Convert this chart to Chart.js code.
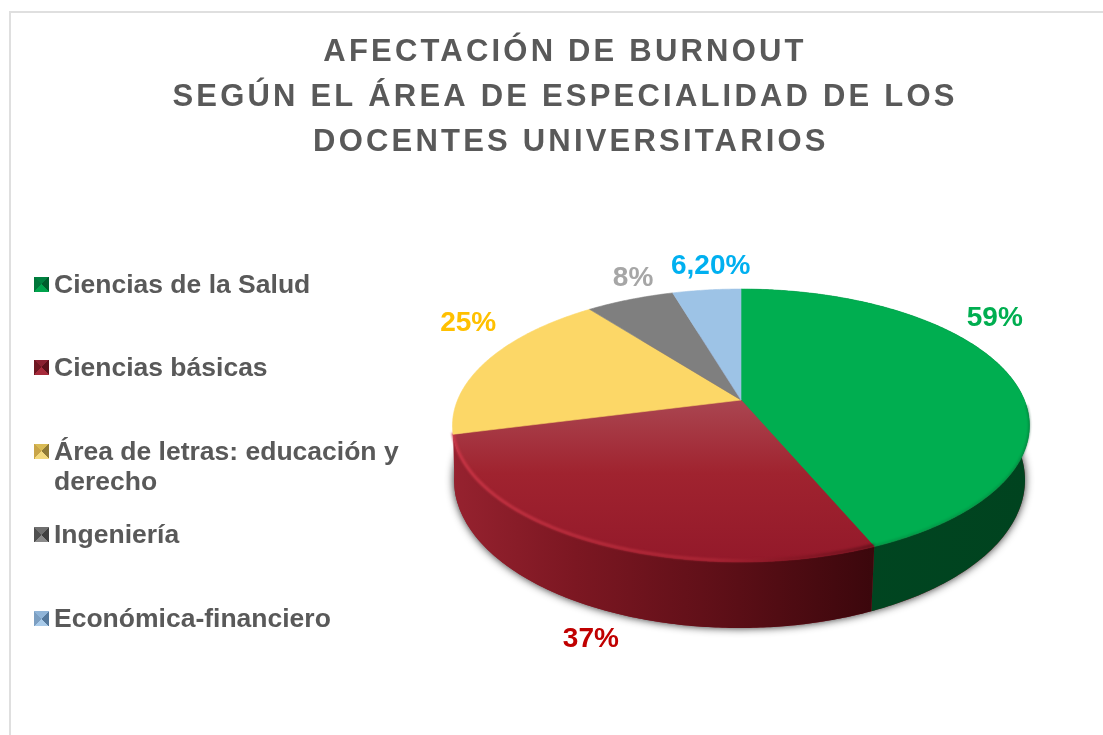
<!DOCTYPE html>
<html lang="es">
<head>
<meta charset="utf-8">
<script src="https://cdn.jsdelivr.net/npm/chart.js@4"></script>
<style>
html,body{margin:0;padding:0;background:#fff;overflow:hidden}
#wrap{position:relative;width:1103px;height:735px;overflow:hidden;font-family:"Liberation Sans",Arial,sans-serif}
#frame{position:absolute;left:9px;top:11px;width:1200px;height:900px;border:2px solid #dfdfdf;pointer-events:none}
canvas{position:absolute;left:0;top:0}
#legend{position:absolute;left:34px;top:0}
.item{position:absolute;left:0;white-space:nowrap;font-weight:bold;font-size:26.5px;line-height:30px;color:#595959;padding-left:20px}
.mark{position:absolute;left:0;top:8px;width:15px;height:15px}
</style>
</head>
<body>
<div id="wrap">
<div id="frame"></div>
<canvas id="c" width="1103" height="735"></canvas>
<div id="legend"></div>
</div>
<script>
const titleLines = ['AFECTACIÓN DE BURNOUT','SEGÚN EL ÁREA DE ESPECIALIDAD DE LOS',' DOCENTES UNIVERSITARIOS'];
const categories = ['Ciencias de la Salud','Ciencias básicas','Área de letras: educación y derecho','Ingeniería','Económica-financiero'];
const values = [59,37,25,8,6.2];
const valueLabels = ['59%','37%','25%','8%','6,20%'];

const topColors = ['#00ae50','#9b1c2c','#fcd767','#7f7f7f','#9dc3e6'];
const labelColors = ['#00ae50','#c00000','#ffc000','#a6a6a6','#00b0f0'];
const wallStops = [['#004a24','#00431f'],['#96222f','#3b070c']];
const labelOffsets = [[-14,-57],[1,98],[-20,-36],[3,-21],[4,-24]];
const legendTops = [269,352,436,519,603];
const legendMarks = [
  ['#00803f','#005c2c','#00a34c','#00773a'],
  ['#8a2030','#5c101a','#a62a3a','#6e1722'],
  ['#d9bb55','#8f7a35','#f3d97c','#c9a548'],
  ['#6f6f6f','#3f3f3f','#8a8a8a','#4f4f4f'],
  ['#8fb4d8','#54789c','#a9cbea','#7c9fc2']
];

/* Perspective geometry of the pie disc, as ratios of the library's outer radius */
const K = 0.187, SX = 283.4/235, SY = 131.7/235;
const TOP = {dy:25.5/235, rx:288.5/235, ry:136.5/235};
const BOT = {dx:-1.5/235, dy:80/235, rx:285.5/235, ry:148/235};

function project(el, th){
  const r = el.outerRadius, x = Math.sin(th), y = -Math.cos(th), d = 1 - K*y;
  return {x: el.x + r*SX*x/d, y: el.y + r*SY*y/d};
}
function ellipseParam(el, p){
  const r = el.outerRadius;
  return Math.atan2((p.y-(el.y+TOP.dy*r))/(TOP.ry*r), (p.x-el.x)/(TOP.rx*r));
}
function bottomRim(el, p){
  const r = el.outerRadius, t = ellipseParam(el,p);
  return {x: el.x + BOT.dx*r + BOT.rx*r*Math.cos(t), y: el.y + BOT.dy*r + BOT.ry*r*Math.sin(t)};
}
function rimPoints(el){
  const a = el.startAngle + Math.PI/2, b = el.endAngle + Math.PI/2;
  const n = Math.max(2, Math.ceil((b-a)/0.01)), pts = [];
  for(let i=0;i<=n;i++) pts.push(project(el, a+(b-a)*i/n));
  return pts;
}

const pie3d = {
  id:'pie3d',
  beforeDraw(chart){ chart.ctx.letterSpacing = '3.2px'; },
  afterLayout(chart){
    const t = chart.titleBlock;
    t.left = 0; t.right = 1130; t.width = 1130;
  },
  beforeDatasetsDraw(chart){
    const ctx = chart.ctx;
    ctx.letterSpacing = '0px';
    const arcs = chart.getDatasetMeta(0).data, e0 = arcs[0], r = e0.outerRadius;
    ctx.save();
    ctx.shadowColor = 'rgba(0,0,0,0.85)';
    ctx.shadowBlur = 8;
    ctx.fillStyle = '#8f2230';
    ctx.beginPath();
    ctx.ellipse(e0.x+BOT.dx*r, e0.y+BOT.dy*r, BOT.rx*r, BOT.ry*r, 0, 0, Math.PI*2);
    ctx.fill();
    ctx.restore();
    arcs.slice(0,2).forEach((el,i)=>{
      const pts = rimPoints(el), low = pts.map(p=>bottomRim(el,p));
      const minX = el.x-TOP.rx*r, maxX = i===1 ? project(el,el.startAngle+Math.PI/2).x : el.x+TOP.rx*r;
      const g = ctx.createLinearGradient(minX,0,maxX,0);
      g.addColorStop(0,wallStops[i][0]);
      if(i===1){ g.addColorStop(0.29,'#7c1722'); g.addColorStop(0.68,'#5a0e16'); }
      g.addColorStop(1,wallStops[i][1]);
      ctx.fillStyle = g;
      ctx.beginPath();
      pts.forEach((p,j)=> j?ctx.lineTo(p.x,p.y):ctx.moveTo(p.x,p.y));
      low.reverse().forEach(p=>ctx.lineTo(p.x,p.y));
      ctx.closePath();
      ctx.fill();
    });
  },
  beforeDatasetDraw(chart){
    const ctx = chart.ctx, arcs = chart.getDatasetMeta(0).data;
    arcs.forEach((el,i)=>{
      const pts = rimPoints(el), r = el.outerRadius;
      let fill = el.options.backgroundColor;
      if(i===1){
        const v = ctx.createLinearGradient(0,el.y,0,el.y+0.69*r);
        v.addColorStop(0,'#aa4651');
        v.addColorStop(0.45,'#a0232f');
        v.addColorStop(1,'#93192a');
        fill = v;
      }
      ctx.fillStyle = fill;
      ctx.strokeStyle = fill;
      ctx.lineWidth = 0.6;
      ctx.beginPath();
      ctx.moveTo(el.x,el.y);
      pts.forEach(p=>ctx.lineTo(p.x,p.y));
      ctx.closePath();
      ctx.fill();
      ctx.stroke();
      if(i<=1){
        ctx.save();
        const edge = i===0 ? pts.filter(p=>p.y>el.y+0.02*r) : pts;
        const minX = edge.reduce((m,p)=>Math.min(m,p.x),1e9), maxX = edge.reduce((m,p)=>Math.max(m,p.x),-1e9);
        const g = ctx.createLinearGradient(minX,0,maxX,0);
        if(i===1){ g.addColorStop(0,'rgba(205,55,72,.9)'); g.addColorStop(0.62,'rgba(190,48,62,.55)'); g.addColorStop(0.8,'rgba(120,20,30,.4)'); g.addColorStop(1,'rgba(70,10,18,.6)'); }
        else { g.addColorStop(0,'rgba(0,90,45,.35)'); g.addColorStop(0.85,'rgba(0,90,45,.35)'); g.addColorStop(1,'rgba(0,70,35,.5)'); }
        ctx.strokeStyle = g;
        ctx.lineWidth = i===0 ? 1.5 : 3;
        ctx.filter = 'blur(0.8px)';
        ctx.beginPath();
        const lift = i===0 ? 0.8 : 1.5;
        edge.forEach((p,j)=> j?ctx.lineTo(p.x,p.y-lift):ctx.moveTo(p.x,p.y-lift));
        ctx.stroke();
        ctx.restore();
      }
    });
    return false;
  },
  afterDatasetsDraw(chart){
    const ctx = chart.ctx, arcs = chart.getDatasetMeta(0).data;
    ctx.save();
    ctx.font = 'bold 28px "Liberation Sans"';
    ctx.textAlign = 'center';
    ctx.textBaseline = 'middle';
    arcs.forEach((el,i)=>{
      const p = project(el, (el.startAngle+el.endAngle)/2 + Math.PI/2);
      ctx.fillStyle = labelColors[i];
      ctx.fillText(valueLabels[i], p.x+labelOffsets[i][0], p.y+labelOffsets[i][1]);
    });
    ctx.restore();
  }
};

new Chart(document.getElementById('c'),{
  type:'pie',
  data:{labels:categories,datasets:[{data:values,backgroundColor:topColors,borderWidth:0,hoverOffset:0}]},
  options:{
    responsive:false,
    animation:false,
    events:[],
    layout:{padding:{left:400,right:21,top:0,bottom:100}},
    plugins:{
      legend:{display:false},
      tooltip:{enabled:false},
      title:{display:true,text:titleLines,color:'#595959',
        font:{family:'"Liberation Sans"',size:31,weight:'bold',lineHeight:45/31},
        padding:{top:29.5,bottom:0.5}}
    }
  },
  plugins:[pie3d]
});

const legend = document.getElementById('legend');
categories.forEach((name,i)=>{
  const d = document.createElement('div');
  d.className = 'item';
  d.style.top = legendTops[i]+'px';
  const m = document.createElement('span');
  m.className = 'mark';
  const c = legendMarks[i];
  m.style.background = `conic-gradient(from 315deg,${c[0]} 0 25%,${c[1]} 0 50%,${c[2]} 0 75%,${c[3]} 0 100%)`;
  d.appendChild(m);
  const words = name.split(' y ');
  if(words.length>1 && name.length>30){
    d.appendChild(document.createTextNode(words[0]+' y'));
    d.appendChild(document.createElement('br'));
    d.appendChild(document.createTextNode(words[1]));
  } else d.appendChild(document.createTextNode(name));
  legend.appendChild(d);
});
</script>
</body>
</html>
